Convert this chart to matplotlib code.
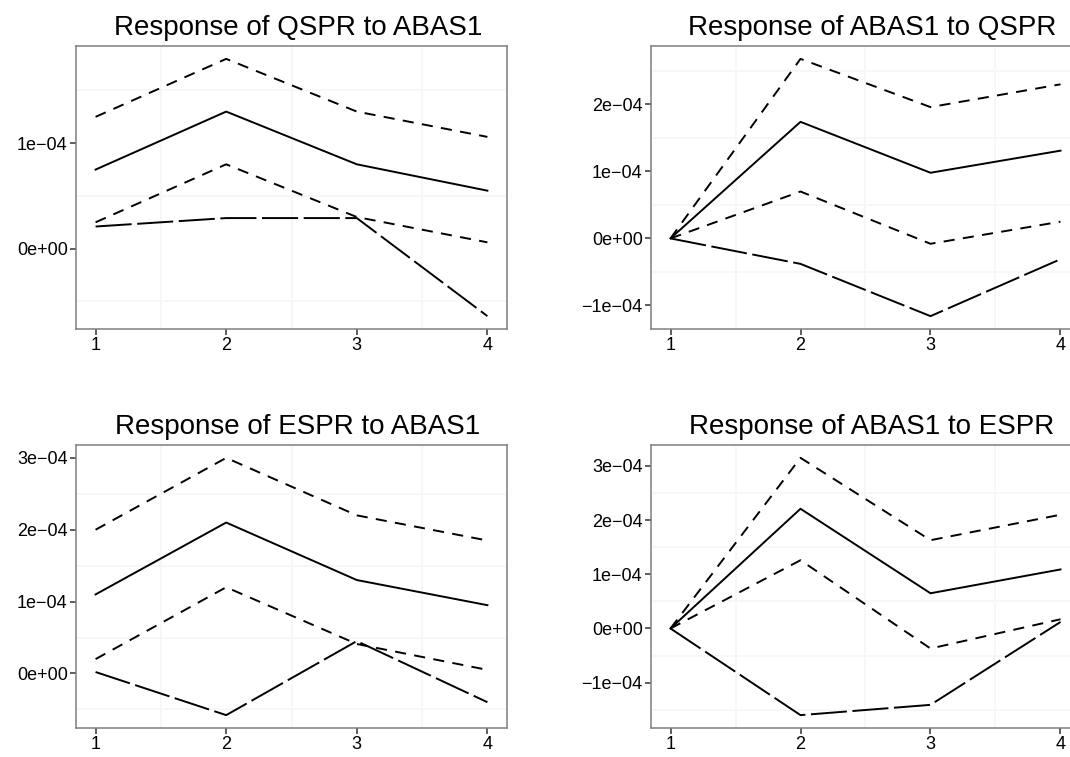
import numpy as np
import matplotlib
matplotlib.use("Agg")
import matplotlib.pyplot as plt

plt.rcParams['font.family'] = ['Liberation Sans', 'DejaVu Sans']
plt.rcParams['lines.scale_dashes'] = False

steps = [1, 2, 3, 4]

# values in units of 1e-04
qspr_abas1_irf = [0.75, 1.30, 0.80, 0.55]
qspr_abas1_upper = [1.25, 1.80, 1.30, 1.06]
qspr_abas1_lower = [0.25, 0.80, 0.30, 0.06]
qspr_abas1_other = [0.21, 0.29, 0.29, -0.64]

abas1_qspr_irf = [0.0, 1.74, 0.98, 1.31]
abas1_qspr_upper = [0.0, 2.68, 1.96, 2.30]
abas1_qspr_lower = [0.0, 0.70, -0.08, 0.25]
abas1_qspr_other = [0.0, -0.38, -1.16, -0.31]

espr_abas1_irf = [1.10, 2.10, 1.30, 0.95]
espr_abas1_upper = [2.00, 3.00, 2.20, 1.85]
espr_abas1_lower = [0.20, 1.20, 0.41, 0.05]
espr_abas1_other = [0.02, -0.58, 0.45, -0.40]

abas1_espr_irf = [0.0, 2.21, 0.65, 1.09]
abas1_espr_upper = [0.0, 3.15, 1.63, 2.10]
abas1_espr_lower = [0.0, 1.26, -0.37, 0.17]
abas1_espr_other = [0.0, -1.60, -1.41, 0.12]

titles = ["Response of QSPR to ABAS1", "Response of ABAS1 to QSPR",
          "Response of ESPR to ABAS1", "Response of ABAS1 to ESPR"]
yticks = [[0, 1], [-1, 0, 1, 2], [0, 1, 2, 3], [-1, 0, 1, 2, 3]]
ytick_labels = {-1: "\u22121e\u221204", 0: "0e+00", 1: "1e\u221204",
                2: "2e\u221204", 3: "3e\u221204"}

panels = [
    (qspr_abas1_irf, qspr_abas1_upper, qspr_abas1_lower, qspr_abas1_other),
    (abas1_qspr_irf, abas1_qspr_upper, abas1_qspr_lower, abas1_qspr_other),
    (espr_abas1_irf, espr_abas1_upper, espr_abas1_lower, espr_abas1_other),
    (abas1_espr_irf, abas1_espr_upper, abas1_espr_lower, abas1_espr_other),
]

W, H = 1070, 757
fig = plt.figure(figsize=(W / 100, H / 100), dpi=100)

# panel boxes in pixels: left, top, right, bottom
boxes = [(76, 46, 507, 329), (651, 46, 1080, 329),
         (76, 445, 507, 728), (651, 445, 1080, 728)]

for i, (irf, upper, lower, other) in enumerate(panels):
    l, t, r, b = boxes[i]
    ax = fig.add_axes([l / W, 1 - b / H, (r - l) / W, (b - t) / H])
    ax.set_facecolor("white")

    allv = np.array(irf + upper + lower + other) * 1e-4
    lo, hi = allv.min(), allv.max()
    pad = 0.05 * (hi - lo)
    ax.set_ylim(lo - pad, hi + pad)
    ax.set_xlim(0.85, 4.15)

    # faint minor grid only (major grid is practically invisible)
    for xv in [1.5, 2.5, 3.5]:
        ax.axvline(xv, color="#F7F7F7", lw=1.3, zorder=0)
    yt = yticks[i]
    for yv in np.arange(yt[0] - 0.5, yt[-1] + 1.0, 1.0):
        if lo - pad < yv * 1e-4 < hi + pad:
            ax.axhline(yv * 1e-4, color="#F7F7F7", lw=1.3, zorder=0)

    ax.plot(steps, np.array(irf) * 1e-4, color="black", lw=1.4)
    ax.plot(steps, np.array(upper) * 1e-4, color="black", lw=1.4, dashes=(8, 6))
    ax.plot(steps, np.array(lower) * 1e-4, color="black", lw=1.4, dashes=(8, 6))
    ax.plot(steps, np.array(other) * 1e-4, color="black", lw=1.4, dashes=(26, 4))

    ax.set_xticks(steps)
    ax.set_xticklabels([str(s) for s in steps])
    ax.set_yticks([v * 1e-4 for v in yt])
    ax.set_yticklabels([ytick_labels[v] for v in yt])
    ax.tick_params(axis="both", direction="out", length=4, width=1.1,
                   color="#333333", labelsize=13, labelcolor="black", pad=2)

    for sp in ax.spines.values():
        sp.set_color("#7F7F7F")
        sp.set_linewidth(1.1)

    ax.set_title(titles[i], fontsize=20, pad=8, x=0.515)

fig.savefig("out.png", dpi=100)
